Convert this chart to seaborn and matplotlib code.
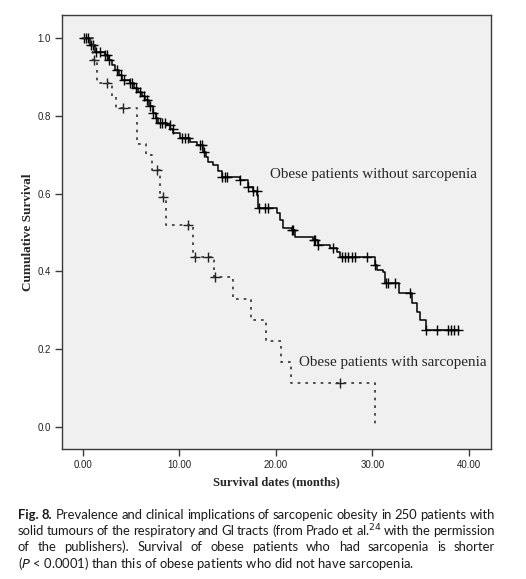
import numpy as np
import pandas as pd
import seaborn as sns
import matplotlib.pyplot as plt
from matplotlib import font_manager

# Kaplan-Meier steps: month of each drop, survival after it
sarc_time = [0, 1.0, 1.45, 3.0, 3.4, 5.6, 6.5, 7.2, 8.0, 8.6, 11.4, 13.6,
             15.5, 17.4, 19.0, 20.5, 21.6, 30.3]
sarc_surv = [1.0, 0.943, 0.884, 0.85, 0.82, 0.727, 0.70, 0.66, 0.59, 0.52,
             0.437, 0.386, 0.33, 0.275, 0.22, 0.166, 0.113, 0.0]
sarc_censor = [1.1, 2.5, 4.1, 7.7, 8.3, 10.9, 11.6, 13.0, 13.7, 26.6]

nosarc_time = [0, 0.73, 1.24, 2.28, 2.59, 3.0, 3.32, 3.73, 4.04, 4.87, 5.28,
               5.70, 6.11, 6.42, 6.84, 7.25, 7.57, 7.77, 8.70, 9.02, 9.33,
               10.05, 11.09, 11.81, 12.44, 12.75, 12.95, 13.47, 13.99, 14.40,
               16.27, 17.10, 17.6, 18.03, 18.13, 20.1, 20.4, 20.7, 21.7, 22.0,
               23.8, 24.35, 25.6, 26.3, 26.6, 30.3, 30.5, 31.1, 31.3, 32.8,
               34.1, 34.6, 34.9, 35.6]
nosarc_surv = [1.0, 0.982, 0.964, 0.956, 0.943, 0.931, 0.918, 0.905, 0.892,
               0.884, 0.871, 0.861, 0.851, 0.841, 0.825, 0.807, 0.794, 0.781,
               0.776, 0.766, 0.756, 0.743, 0.733, 0.725, 0.707, 0.694, 0.681,
               0.674, 0.658, 0.643, 0.635, 0.617, 0.607, 0.596, 0.563, 0.550,
               0.532, 0.512, 0.507, 0.488, 0.481, 0.468, 0.460, 0.450, 0.437,
               0.416, 0.404, 0.398, 0.370, 0.344, 0.319, 0.296, 0.275, 0.249]
nosarc_end = 39.0
nosarc_censor = [0.1, 0.3, 0.5, 0.8, 1.0, 1.3, 1.8, 2.3, 2.5, 2.7, 3.5, 3.9,
                 4.2, 4.9, 5.1, 5.5, 5.9, 6.3, 6.6, 6.9, 7.3, 7.6, 8.0, 8.2,
                 8.5, 9.0, 9.3, 10.3, 10.6, 10.9, 12.1, 12.3, 12.5, 14.4, 14.7,
                 14.9, 16.3, 17.1, 17.6, 18.0, 18.2, 18.9, 19.2, 21.7, 21.8,
                 23.9, 24.0, 24.4, 25.9, 26.8, 27.2, 27.5, 27.9, 28.2, 29.4,
                 30.3, 31.4, 31.6, 32.3, 33.9, 35.6, 36.7, 37.8, 38.2, 38.5,
                 38.9]

x_ticks = [0, 10, 20, 30, 40]
x_labels = ['0.00', '10.00', '20.00', '30.00', '40.00']
y_ticks = [0.0, 0.2, 0.4, 0.6, 0.8, 1.0]
y_labels = ['0.0', '0.2', '0.4', '0.6', '0.8', '1.0']

caption = [
    'Fig. 8. Prevalence and clinical implications of sarcopenic obesity in 250 patients with',
    'solid tumours of the respiratory and GI tracts (from Prado et al.$^{24}$ with the permission',
    'of the publishers). Survival of obese patients who had sarcopenia is shorter',
    '($\\it{P}$ < 0.0001) than this of obese patients who did not have sarcopenia.',
]


def km_frame(times, surv, end):
    return pd.DataFrame({'months': list(times) + [end],
                         'survival': list(surv) + [surv[-1]]})


def censor_frame(times, surv, censor):
    idx = np.searchsorted(times, censor, side='right') - 1
    return pd.DataFrame({'months': censor, 'survival': np.array(surv)[idx]})


sns.set_theme(style='white', rc={'axes.facecolor': '#f0f0f0',
                                 'axes.edgecolor': '#3a3a3a',
                                 'axes.linewidth': 1.0,
                                 'xtick.bottom': True, 'ytick.left': True})
installed = {f.name for f in font_manager.fontManager.ttflist}
tick_font = 'Liberation Sans Narrow' if 'Liberation Sans Narrow' in installed else 'Liberation Sans'
plt.rcParams['font.family'] = ['Liberation Serif', 'DejaVu Serif']

W, H = 526, 579
fig = plt.figure(figsize=(W / 100, H / 100), dpi=100)
ax = fig.add_axes([62 / W, 1 - 449 / H, (491 - 62) / W, (449 - 15) / H])

sns.lineplot(data=km_frame(nosarc_time, nosarc_surv, nosarc_end), x='months',
             y='survival', drawstyle='steps-post', estimator=None, sort=False,
             color='black', lw=1.1, ax=ax)
sns.lineplot(data=km_frame(sarc_time, sarc_surv, sarc_time[-1]), x='months',
             y='survival', drawstyle='steps-post', estimator=None, sort=False,
             color='#333333', lw=1.2, ls=(0, (1.6, 3.0)), ax=ax)
sns.scatterplot(data=censor_frame(nosarc_time, nosarc_surv, nosarc_censor),
                x='months', y='survival', marker='+', s=42, color='black',
                linewidth=1.0, ax=ax)
sns.scatterplot(data=censor_frame(sarc_time, sarc_surv, sarc_censor),
                x='months', y='survival', marker='+', s=42, color='#222222',
                linewidth=1.0, ax=ax)

ax.set_xlim(-2.18, 42.3)
ax.set_ylim(-0.0566, 1.059)
ax.set_xticks(x_ticks)
ax.set_xticklabels(x_labels, fontfamily=tick_font, fontsize=7, color='#222222')
ax.set_yticks(y_ticks)
ax.set_yticklabels(y_labels, fontfamily=tick_font, fontsize=7, color='#222222')
ax.tick_params(length=5, width=1, color='#3a3a3a', pad=3)

ax.set_xlabel('Survival dates (months)', fontweight='bold', fontsize=9)
ax.xaxis.set_label_coords(0.5, -0.062)
ax.set_ylabel('Cumulative Survival', fontweight='bold', fontsize=9.5)
ax.yaxis.set_label_coords(-0.065, 0.5)

ax.text(19.4, 0.648, 'Obese patients without sarcopenia', va='center', fontsize=10.9)
ax.text(22.4, 0.167, 'Obese patients with sarcopenia', va='center', fontsize=10.9)

# caption, justified like the journal text
renderer = fig.canvas.get_renderer()
cap_font = ['Lato', 'DejaVu Sans']
x0, x1 = 18, 495
probe = fig.text(0, 0, caption[-1], fontsize=10, fontfamily=cap_font)
cap_size = 10 * 395 / probe.get_window_extent(renderer).width
probe.remove()
line_y = [515, 531, 547, 564]
for i, (line, yy) in enumerate(zip(caption, line_y)):
    if i == len(caption) - 1:
        fig.text(x0 / W, 1 - yy / H, line, fontsize=cap_size, fontfamily=cap_font,
                 va='center', color='#1a1a1a')
        continue
    words = line.split(' ')
    arts = [fig.text(0, 1 - yy / H, w, fontsize=cap_size, fontfamily=cap_font,
                     fontweight='bold' if (i == 0 and k < 2) else 'normal',
                     va='center', color='#1a1a1a')
            for k, w in enumerate(words)]
    widths = [a.get_window_extent(renderer).width for a in arts]
    gap = (x1 - x0 - sum(widths)) / (len(words) - 1)
    pos = x0
    for a, w in zip(arts, widths):
        a.set_x(pos / W)
        pos += w + gap

plt.savefig('out.png', dpi=100)
